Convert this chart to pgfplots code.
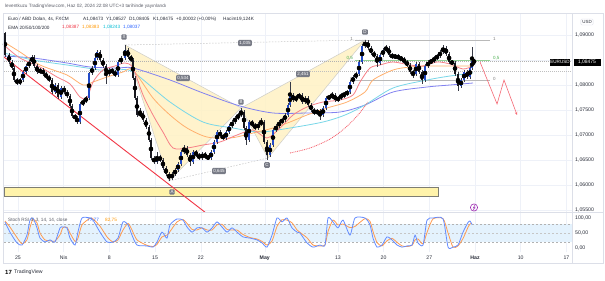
\documentclass[border=0pt]{standalone}
\usepackage{pgfplots}
\pgfplotsset{compat=1.18}
\usepackage{pgfplotstable}
\usepackage{fontspec}
\setmainfont{Liberation Sans}
\usetikzlibrary{arrows.meta}

\definecolor{gridcol}{RGB}{238,241,248}
\definecolor{framecol}{RGB}{220,223,232}
\definecolor{txt}{RGB}{40,44,56}
\definecolor{txtgray}{RGB}{90,93,104}
\definecolor{upc}{RGB}{35,75,200}
\definecolor{dnc}{RGB}{25,25,32}
\definecolor{wickc}{RGB}{55,58,70}
\definecolor{ema20}{RGB}{247,128,135}
\definecolor{ema50}{RGB}{255,176,110}
\definecolor{ema100}{RGB}{120,215,232}
\definecolor{ema200}{RGB}{130,130,240}
\definecolor{pat}{RGB}{255,242,196}
\definecolor{patedge}{RGB}{205,205,200}
\definecolor{lbl}{RGB}{120,123,134}
\definecolor{zone}{RGB}{255,243,170}
\definecolor{zoneedge}{RGB}{125,125,115}
\definecolor{tvred}{RGB}{242,54,69}
\definecolor{fibgreen}{RGB}{76,175,80}
\definecolor{kcol}{RGB}{100,140,255}
\definecolor{dcol}{RGB}{255,155,80}
\definecolor{band}{RGB}{228,242,253}
\definecolor{hred}{RGB}{242,54,69}
\definecolor{horange}{RGB}{255,152,0}
\definecolor{hcyan}{RGB}{0,188,212}
\definecolor{hblue}{RGB}{41,98,255}
\definecolor{purp}{RGB}{156,39,176}

\newcommand\tickfont{\fontsize{5.2}{6}\selectfont}
\newcommand\hfont{\fontsize{4.7}{5.5}\selectfont}
\tikzset{plab/.style={fill=lbl, text=white, rounded corners=1bp, inner sep=1.2bp, font=\fontsize{4.5}{5}\selectfont}}

\pgfplotstableread{
x o h l c
-1.42 1.0904 1.0906 1.0856 1.0860
-0.98 1.0860 1.0864 1.0842 1.0846
-0.66 1.0846 1.0850 1.0830 1.0834
-0.44 1.0834 1.0838 1.0806 1.0810
-0.11 1.0810 1.0814 1.0800 1.0804
0.22 1.0804 1.0814 1.0800 1.0810
0.55 1.0810 1.0830 1.0806 1.0826
0.88 1.0826 1.0842 1.0822 1.0838
1.20 1.0838 1.0850 1.0834 1.0846
1.53 1.0846 1.0860 1.0842 1.0856
1.75 1.0856 1.0860 1.0834 1.0838
2.08 1.0838 1.0842 1.0822 1.0826
2.41 1.0826 1.0834 1.0822 1.0830
2.74 1.0830 1.0834 1.0818 1.0822
3.06 1.0822 1.0826 1.0812 1.0816
3.39 1.0816 1.0820 1.0806 1.0810
3.72 1.0810 1.0814 1.0782 1.0786
4.05 1.0786 1.0804 1.0782 1.0800
4.38 1.0800 1.0804 1.0772 1.0776
4.70 1.0776 1.0798 1.0772 1.0794
5.03 1.0794 1.0798 1.0782 1.0786
5.36 1.0786 1.0790 1.0774 1.0778
5.69 1.0778 1.0782 1.0754 1.0758
5.91 1.0758 1.0762 1.0734 1.0738
6.24 1.0738 1.0742 1.0730 1.0734
6.46 1.0734 1.0738 1.0722 1.0726
6.78 1.0726 1.0766 1.0722 1.0762
7.11 1.0762 1.0772 1.0758 1.0768
7.44 1.0768 1.0778 1.0764 1.0774
7.77 1.0774 1.0826 1.0770 1.0824
8.10 1.0824 1.0838 1.0820 1.0834
8.42 1.0834 1.0858 1.0830 1.0854
8.64 1.0854 1.0870 1.0850 1.0866
8.97 1.0866 1.0870 1.0846 1.0850
9.30 1.0850 1.0854 1.0834 1.0838
9.63 1.0838 1.0842 1.0802 1.0822
9.96 1.0822 1.0834 1.0818 1.0830
10.28 1.0830 1.0834 1.0822 1.0826
10.61 1.0826 1.0830 1.0816 1.0820
10.94 1.0820 1.0850 1.0816 1.0846
11.27 1.0846 1.0858 1.0842 1.0854
11.71 1.0854 1.0880 1.0850 1.0870
12.04 1.0870 1.0874 1.0852 1.0856
12.36 1.0856 1.0860 1.0846 1.0850
12.58 1.0850 1.0854 1.0810 1.0814
12.80 1.0814 1.0818 1.0770 1.0774
13.02 1.0774 1.0778 1.0736 1.0740
13.35 1.0740 1.0754 1.0736 1.0744
13.68 1.0744 1.0748 1.0726 1.0730
14.00 1.0730 1.0734 1.0712 1.0716
14.33 1.0716 1.0720 1.0686 1.0690
14.55 1.0690 1.0694 1.0650 1.0654
14.88 1.0654 1.0658 1.0642 1.0646
15.21 1.0646 1.0666 1.0642 1.0656
15.54 1.0656 1.0660 1.0646 1.0650
15.86 1.0650 1.0654 1.0630 1.0634
16.19 1.0634 1.0638 1.0618 1.0622
16.52 1.0622 1.0626 1.0608 1.0614
16.85 1.0614 1.0626 1.0610 1.0622
17.18 1.0622 1.0634 1.0618 1.0630
17.51 1.0630 1.0646 1.0626 1.0642
17.83 1.0642 1.0670 1.0638 1.0666
18.16 1.0666 1.0680 1.0662 1.0674
18.49 1.0674 1.0678 1.0656 1.0660
18.82 1.0660 1.0664 1.0638 1.0646
19.15 1.0646 1.0670 1.0642 1.0666
19.47 1.0666 1.0670 1.0656 1.0660
19.80 1.0660 1.0664 1.0650 1.0654
20.13 1.0654 1.0666 1.0650 1.0662
20.46 1.0662 1.0666 1.0652 1.0656
20.79 1.0656 1.0660 1.0650 1.0654
21.12 1.0654 1.0670 1.0650 1.0666
21.44 1.0666 1.0690 1.0662 1.0686
21.77 1.0686 1.0710 1.0682 1.0706
22.10 1.0706 1.0710 1.0694 1.0698
22.43 1.0698 1.0702 1.0690 1.0694
22.76 1.0694 1.0710 1.0690 1.0706
23.09 1.0706 1.0722 1.0702 1.0718
23.41 1.0718 1.0730 1.0714 1.0726
23.74 1.0726 1.0738 1.0722 1.0734
24.07 1.0734 1.0744 1.0730 1.0740
24.40 1.0740 1.0754 1.0736 1.0746
24.73 1.0746 1.0750 1.0710 1.0714
24.95 1.0714 1.0718 1.0680 1.0690
25.27 1.0690 1.0730 1.0686 1.0726
25.60 1.0726 1.0730 1.0716 1.0720
25.93 1.0720 1.0724 1.0710 1.0714
26.26 1.0714 1.0726 1.0710 1.0722
26.59 1.0722 1.0734 1.0718 1.0726
26.91 1.0726 1.0730 1.0682 1.0686
27.24 1.0686 1.0690 1.0650 1.0660
27.57 1.0660 1.0684 1.0656 1.0680
27.90 1.0680 1.0714 1.0676 1.0710
28.23 1.0710 1.0722 1.0706 1.0718
28.56 1.0718 1.0730 1.0714 1.0726
28.88 1.0726 1.0734 1.0722 1.0730
29.21 1.0730 1.0744 1.0726 1.0740
29.54 1.0740 1.0764 1.0736 1.0760
29.76 1.0760 1.0806 1.0756 1.0780
30.09 1.0780 1.0784 1.0766 1.0770
30.42 1.0770 1.0780 1.0766 1.0776
30.74 1.0776 1.0784 1.0772 1.0780
31.07 1.0780 1.0784 1.0762 1.0766
31.40 1.0766 1.0778 1.0762 1.0774
31.73 1.0774 1.0778 1.0756 1.0760
32.06 1.0760 1.0764 1.0746 1.0750
32.39 1.0750 1.0754 1.0740 1.0744
32.71 1.0744 1.0752 1.0740 1.0748
33.04 1.0748 1.0752 1.0730 1.0740
33.37 1.0740 1.0758 1.0736 1.0754
33.70 1.0754 1.0778 1.0750 1.0774
34.03 1.0774 1.0780 1.0770 1.0776
34.35 1.0776 1.0786 1.0772 1.0780
34.68 1.0780 1.0784 1.0766 1.0770
35.01 1.0770 1.0778 1.0766 1.0774
35.34 1.0774 1.0784 1.0770 1.0780
35.67 1.0780 1.0786 1.0774 1.0782
36.00 1.0782 1.0790 1.0778 1.0786
36.32 1.0786 1.0810 1.0782 1.0806
36.65 1.0806 1.0820 1.0802 1.0816
36.98 1.0816 1.0826 1.0812 1.0822
37.31 1.0822 1.0850 1.0818 1.0846
37.64 1.0846 1.0882 1.0842 1.0878
37.96 1.0878 1.0890 1.0874 1.0886
38.29 1.0886 1.0890 1.0870 1.0874
38.62 1.0874 1.0878 1.0860 1.0864
38.95 1.0864 1.0868 1.0854 1.0858
39.28 1.0858 1.0862 1.0836 1.0844
39.61 1.0844 1.0864 1.0840 1.0860
39.93 1.0860 1.0874 1.0856 1.0870
40.26 1.0870 1.0880 1.0866 1.0874
40.59 1.0874 1.0878 1.0856 1.0860
40.92 1.0860 1.0864 1.0852 1.0856
41.25 1.0856 1.0862 1.0852 1.0858
41.58 1.0858 1.0862 1.0850 1.0854
41.90 1.0854 1.0858 1.0848 1.0852
42.23 1.0852 1.0856 1.0842 1.0846
42.56 1.0846 1.0850 1.0836 1.0840
42.89 1.0840 1.0844 1.0822 1.0826
43.22 1.0826 1.0830 1.0814 1.0822
43.54 1.0822 1.0846 1.0818 1.0842
43.87 1.0842 1.0846 1.0822 1.0826
44.20 1.0826 1.0830 1.0802 1.0810
44.53 1.0810 1.0842 1.0806 1.0838
44.86 1.0838 1.0850 1.0834 1.0846
45.19 1.0846 1.0852 1.0842 1.0848
45.51 1.0848 1.0858 1.0844 1.0854
45.84 1.0854 1.0862 1.0850 1.0858
46.17 1.0858 1.0870 1.0854 1.0866
46.50 1.0866 1.0880 1.0862 1.0874
46.83 1.0874 1.0878 1.0858 1.0862
47.16 1.0862 1.0866 1.0842 1.0846
47.48 1.0846 1.0850 1.0840 1.0844
47.81 1.0844 1.0848 1.0818 1.0822
48.14 1.0822 1.0826 1.0788 1.0798
48.47 1.0798 1.0814 1.0794 1.0810
48.80 1.0810 1.0830 1.0806 1.0826
49.13 1.0826 1.0830 1.0812 1.0816
49.45 1.0816 1.0838 1.0812 1.0834
49.67 1.0834 1.0876 1.0830 1.0848
49.89 1.08473 1.08527 1.08405 1.08475
}\candles

\pgfplotstableread{
x k d
-1.42 87 90
-0.88 53 70
-0.11 17 35
0.44 10 14
0.98 43 27
1.31 93 68
1.64 100 96
2.08 67 84
2.41 33 50
2.95 20 27
3.50 27 24
4.05 20 23
4.60 67 44
4.92 70 68
5.36 67 69
5.69 33 50
6.24 10 22
6.56 53 32
7.00 100 77
7.88 100 99
8.21 93 97
8.97 53 73
9.74 20 37
10.39 20 20
10.94 33 27
11.49 87 60
12.04 77 82
12.47 43 60
13.02 10 27
14.11 7 9
14.77 3 5
15.21 20 12
15.75 53 37
16.30 33 43
16.63 77 55
17.40 97 87
18.05 93 95
18.49 70 82
19.04 53 62
19.58 67 60
20.13 67 67
20.68 53 60
21.23 67 60
21.77 87 77
22.32 70 79
22.87 53 62
23.41 67 60
23.96 53 60
24.62 37 45
25.38 33 35
26.15 27 30
26.70 17 22
27.24 3 10
27.79 43 23
28.34 100 72
28.88 87 94
29.43 100 93
29.98 67 84
30.53 53 60
30.85 50 52
31.62 17 34
32.28 3 10
33.04 10 7
33.59 10 10
33.92 100 55
34.46 87 93
35.01 67 77
35.56 93 80
36.32 43 68
36.87 100 72
37.96 100 98
38.51 77 89
38.84 33 55
39.28 3 18
39.82 10 7
40.37 37 24
40.92 27 32
41.47 10 19
42.01 3 7
42.56 7 5
43.11 10 9
43.44 43 27
43.76 17 30
44.31 10 14
44.75 93 52
45.40 100 97
46.50 97 98
47.05 3 50
47.59 3 3
48.14 10 7
48.69 53 32
49.23 85 69
49.45 90 80
49.67 78 83
}\stoch

\begin{document}
\begin{tikzpicture}[x=1bp,y=1bp]
\fill[white] (0bp,0bp) rectangle (605bp,-281bp);
\path[use as bounding box] (0bp,0bp) rectangle (605bp,-281bp);

% ---------------- main price pane
\begin{axis}[
  at={(4bp,-212bp)}, anchor=south west, scale only axis,
  width=568bp, height=199bp,
  xmin=-1.53, xmax=60.61, ymin=1.0546, ymax=1.0944,
  axis line style={draw=none},
  major tick length=0pt,
  xtick={0,5,10,15,20,27,35,40,45,50,55,60}, xticklabels={},
  ytick={1.055,1.06,1.065,1.07,1.075,1.08,1.09},
  extra y ticks={1.085}, extra y tick labels={},
  grid=major, major grid style={draw=gridcol, line width=0.5bp},
  yticklabel pos=right,
  yticklabel style={font=\tickfont, text=txt, anchor=west, inner sep=0pt, xshift=3bp},
  /pgf/number format/.cd, fixed, fixed zerofill, precision=5, use comma, 1000 sep={}, assume math mode=true
]
% support zone
\addplot[fill=zone, draw=zoneedge, line width=0.6bp] coordinates {(-1.53,1.0578) (45.95,1.0578) (45.95,1.0596) (-1.53,1.0596)} -- cycle;
% harmonic pattern triangles X-A-B and B-C-D
\addplot[fill=pat, fill opacity=0.85, draw=patedge, line width=0.5bp] coordinates {(11.71,1.0880) (16.52,1.0608) (24.40,1.0754)} -- cycle;
\addplot[fill=pat, fill opacity=0.85, draw=patedge, line width=0.5bp] coordinates {(24.40,1.0754) (27.35,1.0654) (37.96,1.0890)} -- cycle;
\addplot[draw=gray!45, line width=0.5bp, dash pattern=on 1.5bp off 1.5bp] coordinates {(11.71,1.0880) (37.96,1.0890)};
\addplot[draw=gray!45, line width=0.5bp, dash pattern=on 1.5bp off 1.5bp] coordinates {(16.52,1.0608) (27.35,1.0654)};
% fibonacci levels
\addplot[draw=gray!55, line width=0.7bp] coordinates {(36.87,1.0890) (51.64,1.0890)};
\addplot[draw=fibgreen!60, line width=0.7bp] coordinates {(36.87,1.0850) (51.64,1.0850)};
\addplot[draw=gray!55, line width=0.7bp] coordinates {(36.87,1.0810) (51.64,1.0810)};
% dotted price lines
\addplot[draw=gray!60, line width=0.5bp, dash pattern=on 1bp off 1bp] coordinates {(-1.53,1.08475) (60.61,1.08475)};
\addplot[draw=gray!50, line width=0.5bp, dash pattern=on 1bp off 1bp] coordinates {(-1.53,1.0828) (60.61,1.0828)};
% EMAs
\addplot[ema200, line width=0.8bp, smooth] coordinates {(-1.53,1.0858) (1.64,1.0854) (5.36,1.0844) (7.88,1.0836) (10.83,1.0834) (12.58,1.0834) (16.63,1.0810) (20.24,1.0784) (24.29,1.0758) (27.90,1.0744) (31.62,1.0744) (35.23,1.0746) (37.96,1.0760) (41.03,1.0786) (44.75,1.0796) (47.26,1.0800) (49.78,1.0804)};
\addplot[ema100, line width=0.8bp, smooth] coordinates {(-1.53,1.0864) (1.64,1.0850) (5.36,1.0840) (7.55,1.0834) (8.97,1.0830) (10.83,1.0830) (12.58,1.0826) (16.63,1.0766) (20.24,1.0726) (23.52,1.0714) (26.48,1.0706) (29.76,1.0714) (33.37,1.0726) (35.78,1.0740) (37.96,1.0760) (41.03,1.0794) (44.75,1.0810) (47.26,1.0818) (49.78,1.0824)};
\addplot[ema50, line width=0.8bp, smooth] coordinates {(-1.53,1.0886) (0.22,1.0866) (2.41,1.0840) (5.36,1.0820) (7.11,1.0800) (8.21,1.0806) (9.74,1.0816) (11.49,1.0826) (12.58,1.0830) (14.77,1.0774) (16.63,1.0740) (18.49,1.0714) (20.68,1.0696) (23.19,1.0694) (24.84,1.0700) (26.15,1.0706) (27.90,1.0714) (29.76,1.0726) (31.62,1.0740) (33.81,1.0754) (36.00,1.0766) (37.96,1.0786) (38.84,1.0810) (41.03,1.0830) (42.89,1.0836) (44.75,1.0838) (47.59,1.0838) (49.78,1.0838)};
\addplot[ema20, line width=0.8bp, smooth] coordinates {(-1.42,1.0878) (0.22,1.0854) (2.41,1.0836) (4.27,1.0816) (5.69,1.0802) (6.78,1.0776) (7.55,1.0774) (8.21,1.0806) (9.30,1.0830) (10.61,1.0838) (11.71,1.0844) (12.58,1.0834) (13.68,1.0780) (14.77,1.0740) (15.86,1.0706) (16.96,1.0674) (18.49,1.0674) (20.24,1.0680) (22.10,1.0686) (23.96,1.0700) (25.71,1.0710) (27.24,1.0694) (28.67,1.0714) (30.09,1.0740) (31.62,1.0756) (33.37,1.0766) (35.23,1.0770) (36.65,1.0780) (37.42,1.0806) (38.51,1.0834) (39.61,1.0840) (41.03,1.0846) (42.89,1.0840) (44.31,1.0838) (45.84,1.0846) (47.26,1.0842) (48.69,1.0832) (49.78,1.0838)};
% red trend line, projection curve and arrow
\addplot[tvred, line width=0.9bp] coordinates {(-1.53,1.0856) (21.0,1.0538)};
\addplot[tvred!80, line width=0.8bp, smooth, dash pattern=on 0.9bp off 0.9bp] coordinates {(29.76,1.0664) (31.95,1.0674) (34.14,1.0692) (35.78,1.0714) (37.20,1.0740) (38.29,1.0766)};
\addplot[tvred!75, line width=0.6bp, -{Stealth[length=3bp,width=2.6bp]}] coordinates {(50.55,1.0846) (52.41,1.0762) (53.17,1.0810) (54.60,1.0740)};
% candles: wicks
\addplot[only marks, mark=none, error bars/.cd, y dir=both, y explicit, error mark=none,
  error bar style={draw=wickc, line width=0.45bp}]
  table[x=x, y expr={(\thisrow{h}+\thisrow{l})/2}, y error expr={(\thisrow{h}-\thisrow{l})/2}] {\candles};
% candles: down bodies
\addplot[only marks, mark=none, unbounded coords=discard, error bars/.cd, y dir=both, y explicit, error mark=none,
  error bar style={draw=dnc, line width=1.35bp}]
  table[x=x, y expr={\thisrow{c}<\thisrow{o} ? (\thisrow{o}+\thisrow{c})/2 : nan}, y error expr={abs(\thisrow{c}-\thisrow{o})/2+0.00004}] {\candles};
% candles: up bodies
\addplot[only marks, mark=none, unbounded coords=discard, error bars/.cd, y dir=both, y explicit, error mark=none,
  error bar style={draw=upc, line width=1.35bp}]
  table[x=x, y expr={\thisrow{c}>=\thisrow{o} ? (\thisrow{o}+\thisrow{c})/2 : nan}, y error expr={abs(\thisrow{c}-\thisrow{o})/2+0.00004}] {\candles};
% pattern labels
\node[plab] at (axis cs:11.60,1.0896) {X};
\node[plab] at (axis cs:16.85,1.0586) {A};
\node[plab] at (axis cs:24.40,1.0766) {B};
\node[plab] at (axis cs:27.24,1.0640) {C};
\node[plab] at (axis cs:37.96,1.0906) {D};
\node[plab] at (axis cs:18.05,1.0814) {0,534};
\node[plab] at (axis cs:24.84,1.0884) {1,035};
\node[plab] at (axis cs:31.18,1.0822) {2,451};
\node[plab] at (axis cs:21.99,1.0628) {0,645};
% fib labels
\node[anchor=east, inner sep=0.5bp, font=\fontsize{4.5}{5}\selectfont, text=gray] at (axis cs:36.70,1.0892) {1};
\node[anchor=east, inner sep=0.5bp, font=\fontsize{4.5}{5}\selectfont, text=fibgreen] at (axis cs:36.70,1.0853) {0,5};
\node[anchor=east, inner sep=0.5bp, font=\fontsize{4.5}{5}\selectfont, text=gray] at (axis cs:36.70,1.0812) {0};
\node[anchor=west, inner sep=0.5bp, font=\fontsize{4.5}{5}\selectfont, text=gray] at (axis cs:51.90,1.0892) {1};
\node[anchor=west, inner sep=0.5bp, font=\fontsize{4.5}{5}\selectfont, text=fibgreen] at (axis cs:51.90,1.0853) {0,5};
\node[anchor=west, inner sep=0.5bp, font=\fontsize{4.5}{5}\selectfont, text=gray] at (axis cs:51.90,1.0812) {0};
\end{axis}

% ---------------- Stoch RSI pane
\begin{axis}[
  at={(4bp,-252bp)}, anchor=south west, scale only axis,
  width=568bp, height=40bp,
  xmin=-1.53, xmax=60.61, ymin=-13.3, ymax=120,
  axis line style={draw=none},
  major tick length=0pt,
  xtick={0,5,10,15,20,27,35,40,45,50,55,60},
  xticklabels={25,Nis,8,15,22,\textbf{May},13,20,27,\textbf{Haz},10,17},
  xticklabel style={font=\tickfont, text=txt, inner sep=0pt, yshift=-3.5bp},
  xmajorgrids, major grid style={draw=gridcol, line width=0.5bp},
  ytick={0,50,100},
  yticklabel pos=right,
  yticklabel style={font=\tickfont, text=txt, anchor=west, inner sep=0pt, xshift=3bp},
  /pgf/number format/.cd, fixed, fixed zerofill, precision=2, use comma, 1000 sep={}, assume math mode=true
]
\addplot[fill=band, draw=none] coordinates {(-1.53,20) (60.61,20) (60.61,80) (-1.53,80)} -- cycle;
\addplot[draw=gray!60, line width=0.5bp, dash pattern=on 2bp off 2bp] coordinates {(-1.53,80) (60.61,80)};
\addplot[draw=gray!45, line width=0.5bp, dash pattern=on 2bp off 2bp] coordinates {(-1.53,50) (60.61,50)};
\addplot[draw=gray!60, line width=0.5bp, dash pattern=on 2bp off 2bp] coordinates {(-1.53,20) (60.61,20)};
\addplot[dcol, line width=0.8bp, smooth, tension=0.4] table[x=x, y=d] {\stoch};
\addplot[kcol, line width=0.8bp, smooth, tension=0.4] table[x=x, y=k] {\stoch};
\end{axis}

% ---------------- frame and separators
\draw[framecol, line width=0.5bp] (3bp,-13bp) rectangle (603bp,-263bp);
\draw[framecol, line width=0.5bp] (3bp,-212bp) -- (603bp,-212bp);
\draw[framecol, line width=0.5bp] (572bp,-13bp) -- (572bp,-263bp);

% ---------------- texts
\node[anchor=west, inner sep=0, font=\hfont, text=txtgray] at (5bp,-6bp) {leventkuzu TradingView.com, Haz 02, 2024 22:08 UTC+3 tarihinde yayınlandı};
\node[anchor=west, inner sep=0, font=\hfont, text=txt] at (8bp,-19.5bp) {Euro / ABD Doları, 4s, FXCM};
\node[anchor=west, inner sep=0, font=\hfont, text=txt] at (83bp,-19.5bp) {A1,08473};
\node[anchor=west, inner sep=0, font=\hfont, text=txt] at (106bp,-19.5bp) {Y1,08527};
\node[anchor=west, inner sep=0, font=\hfont, text=txt] at (129bp,-19.5bp) {D1,08405};
\node[anchor=west, inner sep=0, font=\hfont, text=txt] at (153bp,-19.5bp) {K1,08475};
\node[anchor=west, inner sep=0, font=\hfont, text=txt] at (176bp,-19.5bp) {+0,00002 (+0,00\%)};
\node[anchor=west, inner sep=0, font=\hfont, text=txt] at (223bp,-19.5bp) {Hacim19,124K};
\node[anchor=west, inner sep=0, font=\hfont, text=txt] at (8bp,-27.5bp) {EMA 20/50/100/200};
\node[anchor=west, inner sep=0, font=\hfont, text=hred] at (62bp,-27.5bp) {1,08387};
\node[anchor=west, inner sep=0, font=\hfont, text=horange] at (82bp,-27.5bp) {1,08383};
\node[anchor=west, inner sep=0, font=\hfont, text=hcyan] at (103bp,-27.5bp) {1,08243};
\node[anchor=west, inner sep=0, font=\hfont, text=hblue] at (123bp,-27.5bp) {1,08037};

\node[anchor=west, inner sep=0, font=\hfont, text=txtgray] at (8bp,-220bp) {Stoch RSI 3, 3, 14, 14, close};
\node[anchor=west, inner sep=0, font=\hfont, text=hblue] at (87bp,-220bp) {77,77};
\node[anchor=west, inner sep=0, font=\hfont, text=horange] at (105bp,-220bp) {82,75};

\node[draw=framecol, rounded corners=1bp, inner sep=1.4bp, font=\fontsize{4.5}{5}\selectfont, text=txt] at (587bp,-22bp) {USD};
\node[fill=black, text=white, inner sep=0.8bp, minimum height=7bp, font=\fontsize{4.6}{5}\selectfont] at (560bp,-62bp) {EURUSD};
\node[fill=black, text=white, inner sep=0.8bp, minimum height=7bp, minimum width=27bp, font=\fontsize{5}{5.5}\selectfont] at (587bp,-62bp) {1,08475};

% event marker
\draw[purp, line width=0.6bp] (474bp,-207.5bp) circle (3.6bp);
\draw[purp, line width=0.5bp] (474.9bp,-205.2bp) -- (473.3bp,-207.9bp) -- (474.8bp,-207.6bp) -- (473.4bp,-210.0bp);

% logo
\node[anchor=west, inner sep=0, font=\fontsize{6}{6.5}\selectfont\bfseries, text=black] at (5bp,-272.5bp) {17};
\node[anchor=west, inner sep=0, font=\fontsize{5.2}{6}\selectfont, text=txt] at (14bp,-272.5bp) {TradingView};
\end{tikzpicture}
\end{document}
